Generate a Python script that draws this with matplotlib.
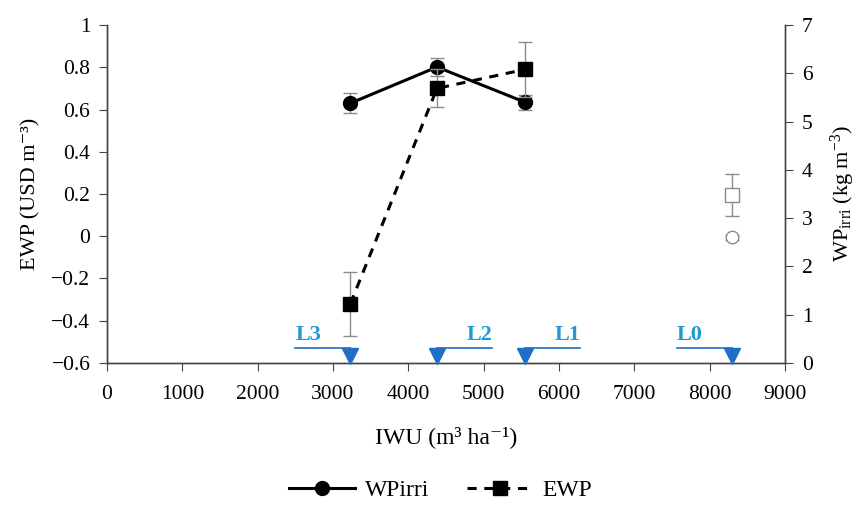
import matplotlib.pyplot as plt
from matplotlib.lines import Line2D

plt.rcParams["font.family"] = ["Liberation Serif", "DejaVu Serif"]
plt.rcParams["mathtext.fontset"] = "custom"
plt.rcParams["mathtext.rm"] = "Liberation Serif"
plt.rcParams["mathtext.it"] = "Liberation Serif:italic"

# irrigation levels
iwu = [3230, 4380, 5550]
wp_irri = [5.38, 6.13, 5.40]          # kg m-3 (right axis)
wp_irri_err = [0.21, 0.19, 0.16]
ewp = [-0.32, 0.70, 0.79]             # USD m-3 (left axis)
ewp_err = [0.15, 0.09, 0.13]

# rainfed (L0) points, open markers
iwu_l0 = [8290]
ewp_l0 = [0.195]
ewp_l0_err = [0.10]
wp_l0 = [2.6]
wp_l0_err = [0.05]

level_names = ["L3", "L2", "L1", "L0"]
level_iwu = [3230, 4380, 5550, 8290]
level_side = [-1, 1, 1, -1]           # which side the label sits on

blue = "#1f6fc8"
label_blue = "#1e9ad6"
grey = "#8c8c8c"

fig = plt.figure(figsize=(8.59, 5.17), dpi=100)
ax = fig.add_axes([0.1246, 0.2979, 0.7893, 0.6537])
ax2 = ax.twinx()

ax.set_xlim(0, 9000)
ax.set_ylim(-0.6, 1.0)
ax2.set_ylim(0, 7)

ax.set_xticks(range(0, 9001, 1000))
ax.set_yticks([-0.6, -0.4, -0.2, 0, 0.2, 0.4, 0.6, 0.8, 1.0])
ax.set_yticklabels(["\u22120.6", "\u22120.4", "\u22120.2", "0", "0.2", "0.4", "0.6", "0.8", "1"])
ax2.set_yticks(range(0, 8))

for a in (ax, ax2):
    a.spines["top"].set_visible(False)
    for s in a.spines.values():
        s.set_color("#444444")
        s.set_linewidth(1.0)
    a.tick_params(labelsize=15.5, length=6, color="#444444", direction="out", pad=6)
ax.tick_params(axis="x", pad=10)

ax.set_xlabel("IWU (m\u00b3 ha\u207b\u00b9)", fontsize=17, labelpad=16)
ax.set_ylabel("EWP (USD m\u207b\u00b3)", fontsize=16, labelpad=8)
ax2.set_ylabel("WP$_{\\mathrm{irri}}$ (kg m$^{\u22123}$)", fontsize=16, labelpad=12)

# WPirri on right axis
ax2.errorbar(iwu, wp_irri, yerr=wp_irri_err, fmt="none", ecolor=grey,
             elinewidth=1, capsize=5, capthick=1, zorder=2)
ax2.plot(iwu, wp_irri, "-o", color="black", lw=2.2, ms=10, zorder=3)
ax2.errorbar(iwu_l0, wp_l0, yerr=wp_l0_err, fmt="o", mfc="white", mec=grey,
             ms=9, ecolor=grey, elinewidth=1, capsize=5, zorder=3)

# EWP on left axis
ax.errorbar(iwu, ewp, yerr=ewp_err, fmt="none", ecolor=grey,
            elinewidth=1, capsize=5, capthick=1, zorder=2)
ax.plot(iwu, ewp, "--s", color="black", lw=2.2, ms=10, dashes=(3, 2.5), zorder=3)
ax.errorbar(iwu_l0, ewp_l0, yerr=ewp_l0_err, fmt="s", mfc="white", mec=grey,
            ms=10, ecolor=grey, elinewidth=1, capsize=5, zorder=3)
ax.set_zorder(ax2.get_zorder() + 1)
ax.patch.set_visible(False)

# irrigation level markers on the x axis
y_line = -0.53
y_tip = -0.6
for name, x, side in zip(level_names, level_iwu, level_side):
    x_far = x + side * 730
    ax.plot([x_far, x], [y_line, y_line], color=blue, lw=1.2, clip_on=False)
    ax.plot([x, x], [y_line, y_tip + 0.03], color=blue, lw=1.2, clip_on=False)
    ax.plot(x, y_tip + 0.035, marker="v", color=blue, ms=11, clip_on=False, zorder=5)
    ha = "left" if side < 0 else "right"
    ax.text(x_far, y_line + 0.015, name, color=label_blue, fontsize=16,
            fontweight="bold", ha=ha, va="bottom")

handles = [
    Line2D([0], [0], color="black", lw=2.2, marker="o", ms=10),
    Line2D([0], [0], color="black", lw=2.2, ls="--", dashes=(3, 2.5), marker="s", ms=10),
]
fig.legend(handles, ["WPirri", "EWP"], loc="center", bbox_to_anchor=(0.513, 0.052),
           ncol=2, frameon=False, fontsize=17, handlelength=2.8, handletextpad=0.4,
           columnspacing=1.6)

fig.savefig("out.png", dpi=100)
